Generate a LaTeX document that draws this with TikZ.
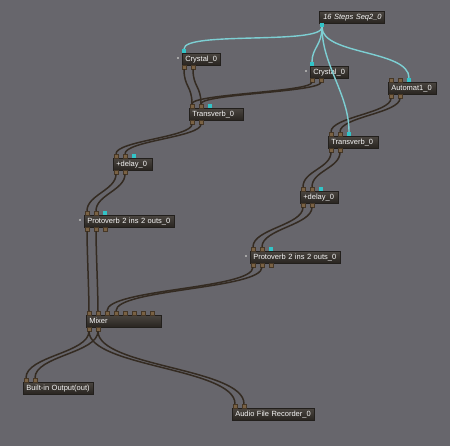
\documentclass[tikz,border=0pt]{standalone}
\usepackage{fontspec}
\newfontfamily\modfont{Liberation Sans}
\usetikzlibrary{positioning}
\definecolor{bgcol}{RGB}{103,102,108}
\definecolor{boxtop}{RGB}{74,69,64}
\definecolor{boxbot}{RGB}{40,36,32}
\definecolor{boxline}{RGB}{34,31,28}
\definecolor{portcol}{RGB}{122,98,68}
\definecolor{portline}{RGB}{70,55,38}
\definecolor{cyanport}{RGB}{50,196,200}
\definecolor{wirecol}{RGB}{52,43,34}
\definecolor{ctrlcol}{RGB}{125,207,211}
\tikzset{
    % module box, argument is text width
    modbox/.style={
        draw=boxline, line width=0.6pt,
        top color=boxtop, bottom color=boxbot,
        text=white!92!gray, anchor=north west,
        minimum height=12pt, inner xsep=3pt, inner ysep=0pt,
        text width=#1, align=left,
        font=\modfont\fontsize{7.5}{9}\selectfont
    },
    inport/.style={
        draw=portline, fill=portcol, line width=0.4pt,
        minimum size=4pt, inner sep=0pt
    },
    cyanin/.style={
        fill=cyanport, minimum size=4pt, inner sep=0pt
    },
    dotport/.style={
        fill=gray!70!white, minimum size=2pt, inner sep=0pt
    },
    wire/.style={
        line width=1.5pt, wirecol
    },
    ctrlwire/.style={
        line width=1.4pt, ctrlcol
    }
}
\begin{document}
\begin{tikzpicture}[x=1pt,y=-1pt]
    \useasboundingbox[fill=bgcol] (0,0) rectangle (450,446);

    % modules
    \node[modbox=63pt, inner xsep=1pt] (seq) at (319,11) {\mbox{\hspace*{3pt}\itshape 16 Steps Seq2\_0}};
    \node[modbox=32pt] (crysA) at (182,53) {\mbox{Crystal\_0}};
    \node[modbox=32pt] (crysB) at (310,66) {\mbox{Crystal\_0}};
    \node[modbox=42pt] (auto) at (388,82) {\mbox{Automat1\_0}};
    \node[modbox=48pt] (transA) at (189,108) {\mbox{Transverb\_0}};
    \node[modbox=44pt] (transB) at (328,136) {\mbox{Transverb\_0}};
    \node[modbox=33pt] (delayA) at (113,158) {\mbox{+delay\_0}};
    \node[modbox=84pt] (protoA) at (84,215) {\mbox{Protoverb 2 ins 2 outs\_0}};
    \node[modbox=32pt] (delayB) at (300,191) {\mbox{+delay\_0}};
    \node[modbox=84pt] (protoB) at (250,251) {\mbox{Protoverb 2 ins 2 outs\_0}};
    \node[modbox=69pt] (mixer) at (86,315) {\mbox{Mixer}};
    \node[modbox=64pt] (builtin) at (23,382) {\mbox{Built-in Output(out)}};
    \node[modbox=76pt] (recorder) at (232,408) {\mbox{Audio File Recorder\_0}};

    % ports
    \node[cyanin] (seq-o) at (322,25) {};
    \node[cyanin] (crysA-i) at (184,51) {};
    \node[inport] (crysA-o1) at (184,67) {};
    \node[inport] (crysA-o2) at (193,67) {};
    \node[dotport] (crysA-d) at (178,58) {};
    \node[cyanin] (crysB-i) at (312,64) {};
    \node[inport] (crysB-o1) at (312,80) {};
    \node[inport] (crysB-o2) at (321,80) {};
    \node[dotport] (crysB-d) at (306,71) {};
    \node[inport] (auto-i1) at (391,80) {};
    \node[inport] (auto-i2) at (400,80) {};
    \node[cyanin] (auto-i3) at (409,80) {};
    \node[inport] (auto-o1) at (391,96) {};
    \node[inport] (auto-o2) at (400,96) {};
    \node[inport] (transA-i1) at (192,106) {};
    \node[inport] (transA-i2) at (201,106) {};
    \node[cyanin] (transA-i3) at (210,106) {};
    \node[inport] (transA-o1) at (192,122) {};
    \node[inport] (transA-o2) at (201,122) {};
    \node[inport] (transB-i1) at (331,134) {};
    \node[inport] (transB-i2) at (340,134) {};
    \node[cyanin] (transB-i3) at (349,134) {};
    \node[inport] (transB-o1) at (331,150) {};
    \node[inport] (transB-o2) at (340,150) {};
    \node[inport] (delayA-i1) at (116,156) {};
    \node[inport] (delayA-i2) at (125,156) {};
    \node[cyanin] (delayA-i3) at (134,156) {};
    \node[inport] (delayA-o1) at (116,172) {};
    \node[inport] (delayA-o2) at (125,172) {};
    \node[inport] (protoA-i1) at (87,213) {};
    \node[inport] (protoA-i2) at (96,213) {};
    \node[cyanin] (protoA-i3) at (105,213) {};
    \node[inport] (protoA-o1) at (87,229) {};
    \node[inport] (protoA-o2) at (96,229) {};
    \node[inport] (protoA-o3) at (105,229) {};
    \node[dotport] (protoA-d) at (80,220) {};
    \node[inport] (delayB-i1) at (303,189) {};
    \node[inport] (delayB-i2) at (312,189) {};
    \node[cyanin] (delayB-i3) at (321,189) {};
    \node[inport] (delayB-o1) at (303,205) {};
    \node[inport] (delayB-o2) at (312,205) {};
    \node[inport] (protoB-i1) at (253,249) {};
    \node[inport] (protoB-i2) at (262,249) {};
    \node[cyanin] (protoB-i3) at (271,249) {};
    \node[inport] (protoB-o1) at (253,265) {};
    \node[inport] (protoB-o2) at (262,265) {};
    \node[inport] (protoB-o3) at (271,265) {};
    \node[dotport] (protoB-d) at (246,256) {};
    \foreach \i in {1,...,8}
        \node[inport] (mixer-i\i) at (80+9*\i,313) {};
    \node[inport] (mixer-o1) at (89,329) {};
    \node[inport] (mixer-o2) at (98,329) {};
    \node[inport] (builtin-i1) at (26,380) {};
    \node[inport] (builtin-i2) at (35,380) {};
    \node[inport] (recorder-i1) at (235,406) {};
    \node[inport] (recorder-i2) at (244,406) {};

    % audio wires
    \foreach \a/\b/\d in {
        crysA-o1/transA-i1/20, crysA-o2/transA-i2/20,
        crysB-o1/transA-i1/12, crysB-o2/transA-i2/12,
        auto-o1/transB-i1/17, auto-o2/transB-i2/17,
        transA-o1/delayA-i1/15, transA-o2/delayA-i2/15,
        delayA-o1/protoA-i1/18, delayA-o2/protoA-i2/18,
        protoA-o1/mixer-i1/20, protoA-o2/mixer-i2/20,
        transB-o1/delayB-i1/18, transB-o2/delayB-i2/18,
        delayB-o1/protoB-i1/20, delayB-o2/protoB-i2/20,
        protoB-o1/mixer-i3/24, protoB-o2/mixer-i4/24,
        mixer-o1/builtin-i1/24, mixer-o2/builtin-i2/24,
        mixer-o1/recorder-i1/38, mixer-o2/recorder-i2/38}
        \draw[wire] (\a) .. controls +(0,\d) and +(0,-\d) .. (\b);

    % control wires
    \draw[ctrlwire] (seq-o) .. controls +(0,20) and +(0,-20) .. (crysA-i);
    \draw[ctrlwire] (seq-o) .. controls +(0,20) and +(0,-16) .. (crysB-i);
    \draw[ctrlwire] (seq-o) .. controls +(0,30) and +(0,-30) .. (auto-i3);
    \draw[ctrlwire] (seq-o) .. controls +(0,40) and +(0,-40) .. (transB-i3);
\end{tikzpicture}
\end{document}
